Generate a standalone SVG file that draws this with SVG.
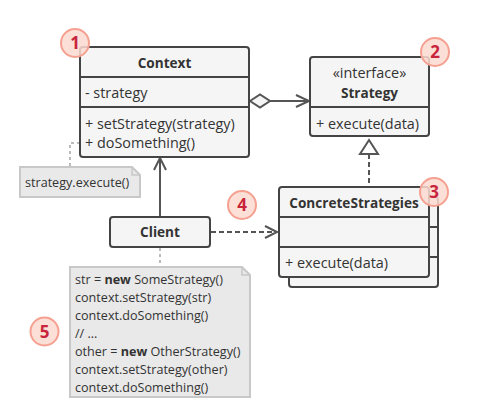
<svg xmlns="http://www.w3.org/2000/svg" width="499" height="419" viewBox="0 0 499 419">
<style>
.box{fill:#f5f5f5;stroke:#444;stroke-width:2}
.ln{stroke:#444;stroke-width:2;fill:none}
.t{font-family:"Open Sans","Liberation Sans",sans-serif;font-size:14.4px;fill:#333}
.b{font-weight:bold;text-anchor:middle;font-size:13.6px}
.note{fill:#e9e9e9;stroke:#c8c8c8;stroke-width:2}
.nt{font-family:"Open Sans","Liberation Sans",sans-serif;font-size:12.6px;fill:#333}
.cn{stroke:#555;stroke-width:2;fill:none}
.dotc{stroke:#bbb;stroke-width:2;fill:none;stroke-dasharray:3 3}
.badge circle{fill:#fbd9cf;fill-opacity:0.85;stroke:#f5a090;stroke-width:2}
.badge text{font-family:"Open Sans","Liberation Sans",sans-serif;font-size:17px;font-weight:bold;fill:#c8243c;text-anchor:middle}
</style>

<g id="connectors">
  <path class="dotc" d="M80,143 H70 V167"/>
  <path class="dotc" d="M160,248 V267"/>
  <path class="cn" d="M270,101 H309 M296,95 L309,101 L296,107"/>
  <polygon points="250,101 260,94.5 270,101 260,107.5" fill="#f5f5f5" stroke="#555" stroke-width="2"/>
  <path class="cn" d="M369,154 V187" stroke-dasharray="5 3"/>
  <polygon points="369,140 378,154 360,154" fill="#fff" stroke="#555" stroke-width="2"/>
  <path class="cn" d="M160,217 V158 M154,170 L160,158 L166,170"/>
  <path class="cn" d="M211,232 H277" stroke-dasharray="5 3"/>
  <path class="cn" d="M265,226 L277,232 L265,238"/>
</g>

<g id="note1">
  <path class="note" d="M20,167 H132 L140,175 V197 H20 Z"/>
  <path d="M132,167 V175 H140" fill="none" stroke="#c8c8c8" stroke-width="1.5"/>
  <text class="nt" x="25" y="186.5">strategy.execute()</text>
</g>

<g id="context">
  <rect class="box" x="80" y="47" width="169" height="110" rx="3"/>
  <path class="ln" d="M80,77 H249 M80,107 H249"/>
  <text class="t b" x="164.5" y="68">Context</text>
  <text class="t" x="85" y="97.5">- strategy</text>
  <text class="t" x="85" y="128.5">+ setStrategy(strategy)</text>
  <text class="t" x="85" y="147.5">+ doSomething()</text>
</g>

<g id="strategy">
  <rect class="box" x="310" y="57" width="119" height="79" rx="3"/>
  <path class="ln" d="M310,107 H429"/>
  <text class="t" x="369.5" y="77.5" text-anchor="middle">«interface»</text>
  <text class="t b" x="369.5" y="97.5">Strategy</text>
  <text class="t" x="316" y="128.5">+ execute(data)</text>
</g>

<g id="concrete">
  <rect class="box" x="289" y="197" width="149" height="90" rx="3"/>
  <path class="ln" d="M289,227 H438 M289,257 H438"/>
  <rect class="box" x="279" y="187" width="150" height="90" rx="3"/>
  <path class="ln" d="M279,217 H429 M279,247 H429"/>
  <text class="t b" x="354" y="207.5">ConcreteStrategies</text>
  <text class="t" x="285" y="267.5">+ execute(data)</text>
</g>

<g id="client">
  <rect class="box" x="110" y="217" width="100" height="30" rx="3"/>
  <text class="t b" x="160" y="237">Client</text>
</g>

<g id="note2">
  <path class="note" d="M70,267 H242 L250,275 V397 H70 Z"/>
  <path d="M242,267 V275 H250" fill="none" stroke="#c8c8c8" stroke-width="1.5"/>
  <text class="nt" x="75" y="283.5">str = <tspan font-weight="bold">new</tspan> SomeStrategy()</text>
  <text class="nt" x="75" y="301.5">context.setStrategy(str)</text>
  <text class="nt" x="75" y="319.5">context.doSomething()</text>
  <text class="nt" x="75" y="337.5" fill="#999">// ...</text>
  <text class="nt" x="75" y="355.5">other = <tspan font-weight="bold">new</tspan> OtherStrategy()</text>
  <text class="nt" x="75" y="373.5">context.setStrategy(other)</text>
  <text class="nt" x="75" y="391.5">context.doSomething()</text>
</g>

<g id="badge1" class="badge"><circle cx="75" cy="43" r="14"/><text x="75" y="49">1</text></g>
<g id="badge2" class="badge"><circle cx="435" cy="52" r="14"/><text x="435" y="58">2</text></g>
<g id="badge3" class="badge"><circle cx="434" cy="192" r="14"/><text x="434" y="198">3</text></g>
<g id="badge4" class="badge"><circle cx="242" cy="205" r="14"/><text x="242" y="211">4</text></g>
<g id="badge5" class="badge"><circle cx="44.5" cy="331.5" r="14"/><text x="44.5" y="337.5">5</text></g>
</svg>
